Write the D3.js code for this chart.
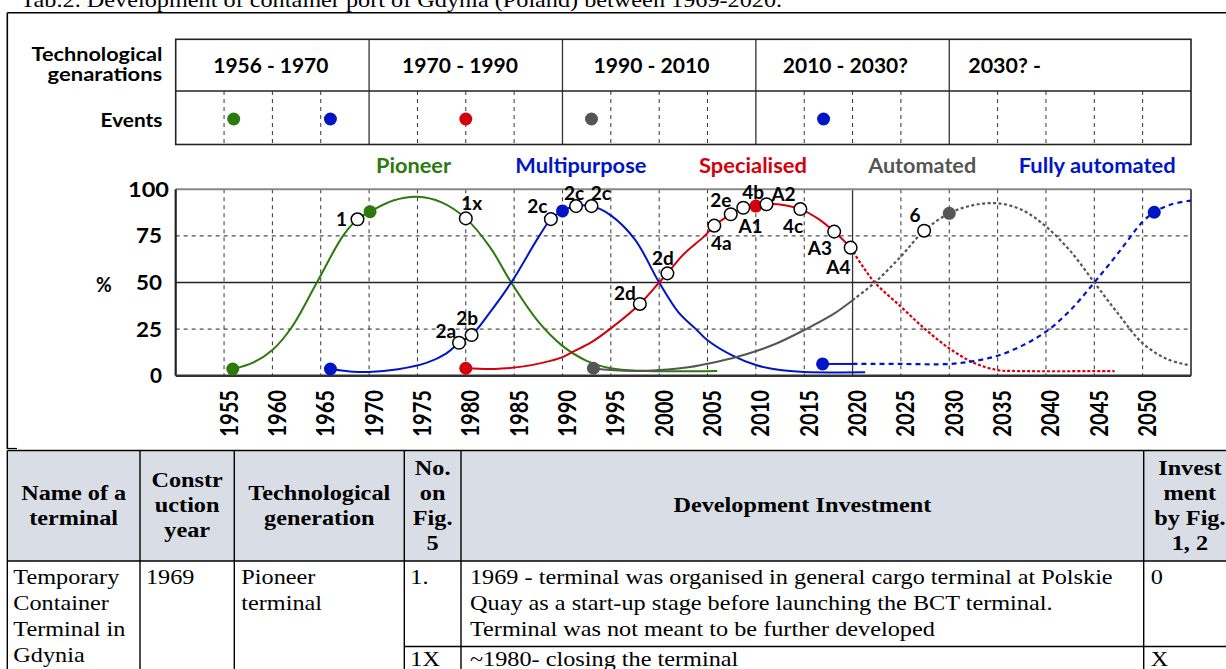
<!DOCTYPE html>
<html><head><meta charset="utf-8">
<script src="https://cdn.jsdelivr.net/npm/d3@7"></script>
<style>body{margin:0;background:#fff}svg{display:block}</style>
</head><body>
<svg id="c" width="1226" height="669"></svg>
<script>
// ---------------- DATA ----------------
const tickYears = d3.range(1955, 2051, 5);
const yTicks = [0, 25, 50, 75, 100];
const generationLabels = ["1956 - 1970", "1970 - 1990", "1990 - 2010", "2010 - 2030?", "2030? -"];
const generationBounds = [1950, 1970, 1990, 2010, 2030, 2055];
const seriesNames = ["Pioneer", "Multipurpose", "Specialised", "Automated", "Fully automated"];
const eventYears = [1956, 1966, 1980, 1993, 2017];

const pioneer = [[1955.9,3.6],[1958,7],[1960,13.8],[1962,26],[1964.6,50],[1967.3,75],[1968.8,83.9],[1970.1,88],[1972.5,94],[1975,96],[1977.5,93],[1980,84.4],[1982.5,69],[1984.7,50],[1987.5,29],[1990,16],[1992.5,8],[1995,4],[1998,2.6],[2006,2.5]];
const multipurpose = [[1966,3.6],[1968,2.3],[1970,2],[1973,3.5],[1976,7],[1978,12],[1979.3,17.7],[1980.6,21.8],[1982.5,34],[1984.7,50],[1987.6,75],[1988.8,84],[1990,88.4],[1991.4,91],[1993,91],[1995,86],[1997.5,73],[2000,50],[2002,34],[2003.8,25],[2005,19],[2007.5,11],[2010,5.7],[2012.5,3],[2015,2],[2021.3,1.8]];
const specialised = [[1980,4],[1983,3.6],[1986,5],[1988,7],[1990,10],[1991.1,12.9],[1993,18],[1995,25.4],[1998,38.5],[2000,50],[2000.85,54.9],[2002.5,65],[2004.7,75],[2005.7,80.5],[2007.4,86.6],[2008.7,90.1],[2010,91],[2011.1,92],[2013,91.5],[2014.6,89.4],[2016.5,84],[2018.1,77.3],[2019.8,68.7]];
const specialisedFuture = [[2019.8,68.7],[2021,59],[2022.3,50],[2025,37],[2027.5,25],[2030,14.7],[2032.5,7],[2035,3],[2037,2.5],[2047.1,2.5]];
const automated = [[1993.2,4],[1995,3],[1997.5,2.5],[2000,3],[2003,4.5],[2006,7.5],[2009,11.5],[2012,17],[2015,24.5],[2018,33],[2020,40.5]];
const automatedFuture = [[2020,40.5],[2022.3,50],[2025,64],[2027.4,77.8],[2030,87.1],[2032.5,91.5],[2035,92.5],[2037.5,89],[2040,80],[2042.5,67],[2045,50],[2047.5,33],[2050,17.4],[2052.5,9],[2055,5.4]];
const fully = [[2016.9,6.3],[2020,6.3]];
const fullyFuture = [[2020,6.3],[2025,6.3],[2030,6.3],[2032.5,7.8],[2035,10.7],[2037.5,16],[2040,23.6],[2042.5,35],[2045,50],[2047.5,66],[2050,82.6],[2051.2,87.7],[2053,92],[2055,93.9]];

// filled (generation) dots
const dotYears  = [1955.9, 1970.1, 1966, 1990, 1980, 2010, 1993.2, 2030, 2016.9, 2051.2];
const dotValues = [3.6, 88, 3.6, 88.4, 4, 91, 4, 87.1, 6.3, 87.7];
const dotSeries = [0, 0, 1, 1, 2, 2, 3, 3, 4, 4];

// open circles (investments)
const markerYears  = [1968.8, 1980, 1979.3, 1980.6, 1988.8, 1991.4, 1993, 1998, 2000.85, 2005.7, 2007.4, 2008.7, 2011.1, 2014.6, 2018.1, 2019.8, 2027.4];
const markerValues = [83.9, 84.4, 17.7, 21.8, 84, 91, 91, 38.5, 54.9, 80.5, 86.6, 90.1, 92, 89.4, 77.3, 68.7, 77.8];
const markerLabels = ["1", "1x", "2a", "2b", "2c", "2c", "2c", "2d", "2d", "4a", "2e", "A1", "A2", "4c", "A3", "A4", "6"];

// table
const tableHeaders = [["Name of a","terminal"],["Constr","uction","year"],["Technological","generation"],["No.","on","Fig.","5"],["Development Investment"],["Invest","ment","by Fig.","1, 2"]];
const rowName = ["Temporary","Container","Terminal in","Gdynia"];
const rowYear = ["1969"];
const rowGeneration = ["Pioneer","terminal"];
const rowNumbers = ["1.", "1X"];
const rowInvestments = [["1969 - terminal was organised in general cargo terminal at Polskie","Quay as a start-up stage before launching the BCT terminal.","Terminal was not meant to be further developed"],["~1980- closing the terminal"]];
const rowByFig = ["0", "X"];
const title = "Tab.2. Development of container port of Gdynia (Poland) between 1969-2020.";

// ---------------- LAYOUT ----------------
const colors = ["#2c7a0c", "#0016c6", "#d4000c", "#555555", "#0016c6"];
const svg = d3.select("#c");
const x = d3.scaleLinear().domain([1950, 2055]).range([175.7, 1191]);
const y = d3.scaleLinear().domain([0, 100]).range([375.7, 189.3]);
const CF = "Lato, 'Open Sans', sans-serif";
const SF = "'Liberation Serif', 'Times New Roman', serif";
const SX = 1.155;

// outer frame
svg.append("line").attr("x1", 7.3).attr("x2", 1226).attr("y1", 12.7).attr("y2", 12.7).attr("stroke", "#000").attr("stroke-width", 1.6);
svg.append("line").attr("x1", 7.3).attr("x2", 7.3).attr("y1", 12.7).attr("y2", 449).attr("stroke", "#000").attr("stroke-width", 1.6);
svg.append("line").attr("x1", 7.3).attr("x2", 17).attr("y1", 448.5).attr("y2", 448.5).attr("stroke", "#000").attr("stroke-width", 1.2);

// title
svg.append("text").attr("transform", `translate(20.5,6.5) scale(${SX},1)`).attr("font-family", SF).attr("font-size", 21).text(title);

// ---- header box (generations + events)
const hTop = 39.3, hMid = 91, hBot = 144.5;
const hdr = svg.append("g");
tickYears.filter(t => !generationBounds.includes(t)).forEach(t => {
  hdr.append("line").attr("x1", x(t)).attr("x2", x(t)).attr("y1", hMid).attr("y2", hBot)
    .attr("stroke", "#333").attr("stroke-width", 1).attr("stroke-dasharray", "4,4");
});
generationBounds.slice(1, -1).forEach(t => {
  hdr.append("line").attr("x1", x(t)).attr("x2", x(t)).attr("y1", hTop).attr("y2", hBot).attr("stroke", "#333").attr("stroke-width", 1.3);
});
hdr.append("line").attr("x1", x(1950)).attr("x2", x(2055)).attr("y1", hMid).attr("y2", hMid).attr("stroke", "#222").attr("stroke-width", 1.5);
hdr.append("rect").attr("x", x(1950)).attr("y", hTop).attr("width", x(2055) - x(1950)).attr("height", hBot - hTop)
  .attr("fill", "none").attr("stroke", "#222").attr("stroke-width", 1.6);

const genPad = [37.6, 33, 31, 27, 19];
const genWidths = [115, 116, 116, 125, 72.7];
generationLabels.forEach((g, i) => {
  hdr.append("text").attr("x", x(generationBounds[i]) + genPad[i]).attr("y", 72.7)
    .attr("font-family", CF).attr("font-weight", 700).attr("font-size", 21)
    .attr("textLength", genWidths[i]).attr("lengthAdjust", "spacingAndGlyphs").text(g);
});
function leftLabel(t, yy, w) {
  svg.append("text").attr("x", 162.3).attr("y", yy).attr("text-anchor", "end")
    .attr("font-family", CF).attr("font-weight", 700).attr("font-size", 19)
    .attr("textLength", w).attr("lengthAdjust", "spacingAndGlyphs").text(t);
}
leftLabel("Technological", 60.5, 130.7);
leftLabel("genarations", 81, 114.7);
leftLabel("Events", 126.7, 61.7);

eventYears.forEach((e, i) => {
  hdr.append("circle").attr("cx", x(e)).attr("cy", 119).attr("r", 6.5).attr("fill", colors[i]);
});

// ---- legend labels
const legendCenters = [1974.6, 1991.9, 2009.7, 2027.2, 2045.3];
const legendWidths = [75, 131, 108, 108, 157];
seriesNames.forEach((s, i) => {
  svg.append("text").attr("x", x(legendCenters[i])).attr("y", 173.3).attr("text-anchor", "middle")
    .attr("font-family", CF).attr("font-weight", 700).attr("font-size", 21).attr("fill", colors[i])
    .attr("textLength", legendWidths[i]).attr("lengthAdjust", "spacingAndGlyphs").text(s);
});

// ---- plot grid
const plot = svg.append("g");
tickYears.forEach(t => {
  plot.append("line").attr("x1", x(t)).attr("x2", x(t)).attr("y1", y(100)).attr("y2", y(0))
    .attr("stroke", "#333").attr("stroke-width", t === 2020 ? 1.3 : 1).attr("stroke-dasharray", t === 2020 ? null : "4,4");
});
[25, 50, 75].forEach(v => {
  plot.append("line").attr("x1", x(1950)).attr("x2", x(2055)).attr("y1", y(v)).attr("y2", y(v))
    .attr("stroke", "#222").attr("stroke-width", v === 50 ? 1.4 : 1).attr("stroke-dasharray", v === 50 ? null : "4,4");
});
plot.append("line").attr("x1", x(1950)).attr("x2", x(2055)).attr("y1", y(100)).attr("y2", y(100)).attr("stroke", "#888").attr("stroke-width", 2);
plot.append("line").attr("x1", x(2055)).attr("x2", x(2055)).attr("y1", y(100)).attr("y2", y(0)).attr("stroke", "#555").attr("stroke-width", 2);
plot.append("line").attr("x1", x(1950)).attr("x2", x(1950)).attr("y1", y(100)).attr("y2", y(0)).attr("stroke", "#222").attr("stroke-width", 2.2);
plot.append("line").attr("x1", x(1950)).attr("x2", x(2055)).attr("y1", y(0)).attr("y2", y(0)).attr("stroke", "#333").attr("stroke-width", 2.6);

// y labels
const yLabelW = {1: 12, 2: 26, 3: 41};
yTicks.forEach(v => {
  const s = String(v);
  svg.append("text").attr("x", v === 100 ? 169 : 162).attr("y", y(v) + 7.5).attr("text-anchor", "end")
    .attr("font-family", CF).attr("font-weight", 700).attr("font-size", 20)
    .attr("textLength", yLabelW[s.length]).attr("lengthAdjust", "spacingAndGlyphs").text(s);
});
svg.append("text").attr("x", 103.8).attr("y", 292).attr("text-anchor", "middle")
  .attr("font-family", CF).attr("font-weight", 700).attr("font-size", 20)
  .attr("textLength", 15.7).attr("lengthAdjust", "spacingAndGlyphs").text("%");

// x labels rotated
tickYears.forEach(t => {
  svg.append("text").attr("transform", `translate(${x(t) + 4},390) rotate(-90)`)
    .attr("text-anchor", "end").attr("dominant-baseline", "central")
    .attr("font-family", CF).attr("font-weight", 700).attr("font-size", 24)
    .attr("textLength", 46.7).attr("lengthAdjust", "spacingAndGlyphs").text(t);
});

// ---- curves
const line = d3.line().x(d => x(d[0])).y(d => y(d[1])).curve(d3.curveCatmullRom.alpha(0.5));
const curves = [
  [pioneer, 0, null], [multipurpose, 1, null], [specialised, 2, null], [specialisedFuture, 2, "3,2"],
  [automated, 3, null], [automatedFuture, 3, "3,2.5"], [fully, 4, null], [fullyFuture, 4, "5,4"]
];
curves.forEach(([d, s, dash]) => {
  plot.append("path").attr("d", line(d)).attr("fill", "none").attr("stroke", colors[s])
    .attr("stroke-width", dash ? 2.2 : 2).attr("stroke-dasharray", dash);
});

// filled dots
dotYears.forEach((yr, i) => {
  plot.append("circle").attr("cx", x(yr)).attr("cy", y(dotValues[i])).attr("r", 6.5).attr("fill", colors[dotSeries[i]]);
});
// open markers
markerYears.forEach((yr, i) => {
  plot.append("circle").attr("cx", x(yr)).attr("cy", y(markerValues[i])).attr("r", 6.3)
    .attr("fill", "#fff").attr("stroke", "#000").attr("stroke-width", 1.5);
});
// marker labels (offsets are layout)
const markerLabelOffsets = [[-16,0],[6,-15],[-13.2,-11.7],[-4.4,-16.7],[-13.5,-13],[-2,-13],[9.3,-13],[-15,-10.7],[-4.4,-15],[7,18.3],[-10,-13.3],[7.2,19],[17,-10],[-7.2,17],[-14.3,16.6],[-12.2,19.6],[-9.2,-14.7]];
markerLabels.forEach((lab, i) => {
  const o = markerLabelOffsets[i];
  svg.append("text").attr("x", x(markerYears[i]) + o[0]).attr("y", y(markerValues[i]) + o[1] + 6.5)
    .attr("text-anchor", "middle").attr("font-family", CF).attr("font-weight", 700).attr("font-size", 19).text(lab);
});
svg.append("text").attr("x", x(2010) - 2.7).attr("y", y(91) - 13.3 + 6.5).attr("text-anchor", "middle")
  .attr("font-family", CF).attr("font-weight", 700).attr("font-size", 19).text("4b");

// ---------------- TABLE ----------------
const colX = [7.3, 140, 234.3, 404.3, 461, 1143.7, 1236];
const tTop = 450.5, tHdrBot = 561, subLine = 646.5, tBot = 700;
const tbl = svg.append("g");
tbl.append("rect").attr("x", colX[0]).attr("y", tTop).attr("width", colX[6] - colX[0]).attr("height", tHdrBot - tTop).attr("fill", "#d9dde5");
function tt(xx, yy, s, anchor, bold) {
  tbl.append("text").attr("transform", `translate(${xx},${yy}) scale(${SX},1)`).attr("text-anchor", anchor)
    .attr("font-family", SF).attr("font-size", 21).attr("font-weight", bold ? 700 : 400).text(s);
}
const LH = 25;
tableHeaders.forEach((lines, c) => {
  const cx = (colX[c] + colX[c + 1]) / 2;
  const start = 505 - (lines.length - 1) * LH / 2;
  lines.forEach((l, k) => tt(cx, start + k * LH + 7, l, "middle", true));
});
const bodyY = 584;
const BL = 26;
rowName.forEach((l, k) => tt(colX[0] + 6, bodyY + k * BL, l, "start"));
rowYear.forEach((l, k) => tt(colX[1] + 6, bodyY + k * BL, l, "start"));
rowGeneration.forEach((l, k) => tt(colX[2] + 7, bodyY + k * BL, l, "start"));
tt(colX[3] + 6, bodyY, rowNumbers[0], "start");
tt(colX[3] + 6, 666, rowNumbers[1], "start");
rowInvestments[0].forEach((l, k) => tt(colX[4] + 9, bodyY + k * BL, l, "start"));
tt(colX[4] + 9, 666, rowInvestments[1][0], "start");
tt(colX[5] + 7, bodyY, rowByFig[0], "start");
tt(colX[5] + 7, 666, rowByFig[1], "start");

const bs = "#000", bw = 1.4;
[tTop, tHdrBot].forEach(yy => tbl.append("line").attr("x1", colX[0]).attr("x2", colX[6]).attr("y1", yy).attr("y2", yy).attr("stroke", bs).attr("stroke-width", bw));
tbl.append("line").attr("x1", colX[3]).attr("x2", colX[6]).attr("y1", subLine).attr("y2", subLine).attr("stroke", bs).attr("stroke-width", bw);
colX.forEach(cx => tbl.append("line").attr("x1", cx).attr("x2", cx).attr("y1", tTop).attr("y2", tBot).attr("stroke", bs).attr("stroke-width", bw));
</script>
</body></html>
